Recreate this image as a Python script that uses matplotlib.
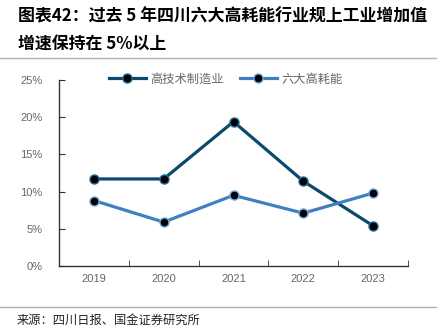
import matplotlib
matplotlib.use("Agg")
import matplotlib.pyplot as plt
from matplotlib.lines import Line2D

plt.rcParams['font.family'] = ['Noto Sans CJK SC', 'DejaVu Sans']

years = ["2019", "2020", "2021", "2022", "2023"]
high_tech = [11.7, 11.7, 19.4, 11.4, 5.4]
six_high = [8.8, 5.9, 9.5, 7.1, 9.8]
y_ticks = [0, 5, 10, 15, 20, 25]
y_labels = ["0%", "5%", "10%", "15%", "20%", "25%"]

title1 = "图表42：过去 5 年四川六大高耗能行业规上工业增加值"
title2 = "增速保持在 5%以上"
source = "来源：四川日报、国金证券研究所"

c_dark = "#0B4A6E"
c_light = "#3F80C2"

fig = plt.figure(figsize=(4.43, 3.30), dpi=100)
ax = fig.add_axes([59/443, 1-266/330, (408-59)/443, (266-80)/330])

x = list(range(len(years)))
ax.plot(x, high_tech, color=c_dark, lw=2.3, marker='o', ms=6.5,
        mfc='black', mec='#1F6A93', mew=1.0, label="高技术制造业", zorder=3)
ax.plot(x, six_high, color=c_light, lw=2.3, marker='o', ms=6.5,
        mfc='black', mec='#6FA8DC', mew=1.0, label="六大高耗能", zorder=3)

ax.set_xlim(-0.5, len(years) - 0.5)
ax.set_ylim(0, 25)
ax.set_yticks(y_ticks)
ax.set_yticklabels(y_labels, fontfamily='Liberation Sans')
ax.set_xticks(x)
ax.set_xticklabels(years, fontfamily='Liberation Sans')
ax.set_xticks([i + 0.5 for i in x], minor=True)
ax.tick_params(axis='x', which='major', length=0, pad=6, labelsize=8, labelcolor='#666666')
ax.tick_params(axis='x', which='minor', length=4, direction='in', color='#333333')
ax.tick_params(axis='y', length=4, direction='in', labelsize=8, labelcolor='#666666', color='#333333', pad=12)
for s in ['top', 'right']:
    ax.spines[s].set_visible(False)
for s in ['left', 'bottom']:
    ax.spines[s].set_color('#333333')
    ax.spines[s].set_linewidth(1.0)

leg = ax.legend(loc='center', bbox_to_anchor=(226/443, 1-79/330), bbox_transform=fig.transFigure,
                ncol=2, frameon=False, prop={'size': 8.8, 'weight': 'light'}, handlelength=3.0,
                columnspacing=1.3, handletextpad=0.4)
for t in leg.get_texts():
    t.set_color('#666666')

fig.text(18/443, 1-16/330, title1, fontsize=12.2, fontweight='bold', va='center', ha='left', color='black')
fig.text(18/443, 1-45/330, title2, fontsize=12.2, fontweight='bold', va='center', ha='left', color='black')
fig.add_artist(Line2D([0, 436/443], [1-58/330, 1-58/330], color='#A8B7C5', lw=1.0, transform=fig.transFigure))
fig.add_artist(Line2D([0, 436/443], [1-307/330, 1-307/330], color='#A8B7C5', lw=1.0, transform=fig.transFigure))
fig.text(17/443, 1-320/330, source, fontsize=8.8, va='center', ha='left', color='#222222')

fig.savefig("out.png", dpi=100)
